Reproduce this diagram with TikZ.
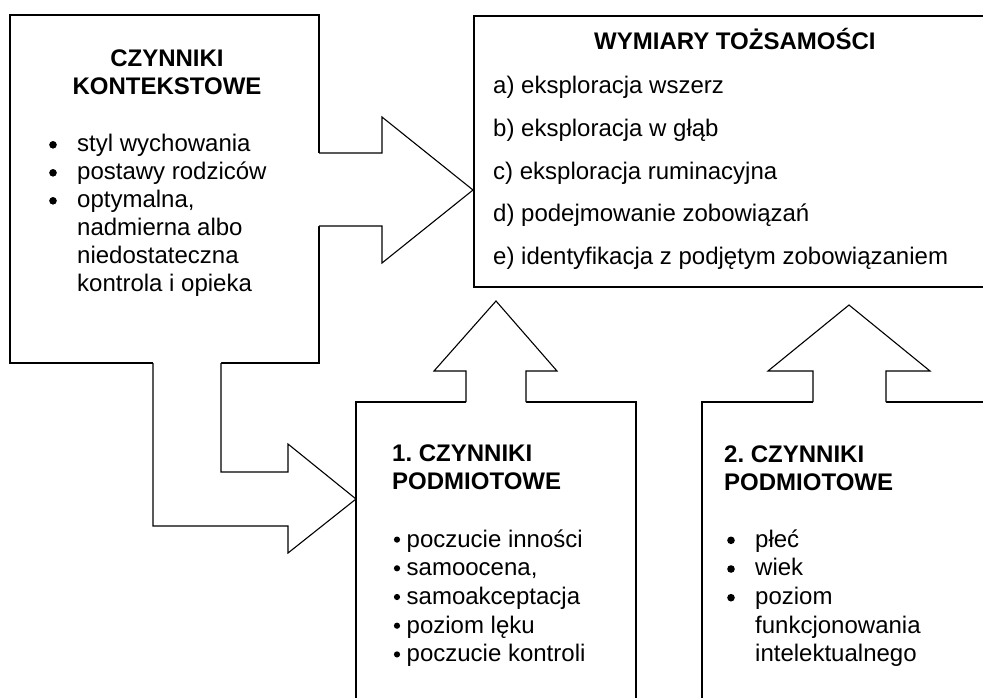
\documentclass[tikz,border=0pt]{standalone}
\usepackage{fontspec}
\setmainfont{Liberation Sans}
\frenchspacing
\tikzset{
  box/.style={draw, line width=1.1pt, anchor=north west, inner sep=0pt, outer sep=0pt},
  blk/.style={line width=1.1pt, line join=miter},
  txt/.style={anchor=base west, inner sep=0pt, font=\fontsize{24}{27.6}\selectfont},
  ttl/.style={anchor=base west, inner sep=0pt, font=\bfseries\fontsize{24}{27.6}\selectfont},
  bul/.style={circle, fill=black, inner sep=0pt, minimum size=7.6pt},
  sbul/.style={circle, fill=black, inner sep=0pt, minimum size=6.2pt},
}
\begin{document}
\begin{tikzpicture}[x=1pt,y=-1pt]
\useasboundingbox (0,0) rectangle (983,697);
\clip (0,0) rectangle (983,697);
% boxes
\node[box, minimum width=309pt, minimum height=348pt] (ctx) at (10,15) {};
\node[box, minimum width=521pt, minimum height=271pt] (dim) at (474,16) {};
\node[box, minimum width=280pt, minimum height=340pt] (sub1) at (356,402) {};
\node[box, minimum width=320pt, minimum height=340pt] (sub2) at (702,402) {};
% right block arrow ctx -> dim
\fill[white] (315,153) -- (382,153) -- (382,117) -- (473,190) -- (382,263) -- (382,226) -- (315,226) -- cycle;
\draw[blk] (319,153) -- (382,153) -- (382,117) -- (473,190) -- (382,263) -- (382,226) -- (319,226);
% L-shaped block arrow ctx -> sub1
\fill[white] (153,359) -- (153,526) -- (288,526) -- (288,553) -- (356,499) -- (288,444) -- (288,472) -- (221,472) -- (221,359) -- cycle;
\draw[blk] (153,363) -- (153,526) -- (288,526) -- (288,553) -- (356,499) -- (288,444) -- (288,472) -- (221,472) -- (221,363);
% up block arrow sub1 -> dim
\fill[white] (466,406) -- (466,371) -- (434,371) -- (496,301) -- (557,371) -- (526,371) -- (526,406) -- cycle;
\draw[blk] (466,402) -- (466,371) -- (434,371) -- (496,301) -- (557,371) -- (526,371) -- (526,402);
% up block arrow sub2 -> dim
\fill[white] (813,406) -- (813,371) -- (768,371) -- (849,305) -- (930,371) -- (886,371) -- (886,406) -- cycle;
\draw[blk] (813,402) -- (813,371) -- (768,371) -- (849,305) -- (930,371) -- (886,371) -- (886,402);
% texts: context box
\node[ttl, anchor=base] (ctxA) at (167,66.5) {CZYNNIKI};
\node[ttl, anchor=base] (ctxB) at (167,94) {KONTEKSTOWE};
\node[bul] (cb1) at (53,144.8) {};
\node[bul] (cb2) at (53,172.8) {};
\node[bul] (cb3) at (53,200.8) {};
\node[txt] (c1) at (77,151.5) {styl wychowania};
\node[txt] (c2) at (77,179.5) {postawy rodziców};
\node[txt] (c3) at (77,207.5) {optymalna,};
\node[txt] (c4) at (77,235.5) {nadmierna albo};
\node[txt] (c5) at (77,263.5) {niedostateczna};
\node[txt] (c6) at (77,291.5) {kontrola i opieka};
% texts: dimensions box
\node[ttl] (dimT) at (594,49.3) {WYMIARY TOŻSAMOŚCI};
\node[txt] (d1) at (493,93.5) {a) eksploracja wszerz};
\node[txt] (d2) at (493,136.25) {b) eksploracja w głąb};
\node[txt] (d3) at (493,179) {c) eksploracja ruminacyjna};
\node[txt] (d4) at (493,221.75) {d) podejmowanie zobowiązań};
\node[txt] (d5) at (493,264.5) {e) identyfikacja z podjętym zobowiązaniem};
% texts: subject factors 1
\node[ttl] (s1A) at (392,461.7) {1. CZYNNIKI};
\node[ttl] (s1B) at (392,489.3) {PODMIOTOWE};
\node[sbul] (sb1) at (397,539.6) {};
\node[sbul] (sb2) at (397,568.3) {};
\node[sbul] (sb3) at (397,597) {};
\node[sbul] (sb4) at (397,625.7) {};
\node[sbul] (sb5) at (397,654.4) {};
\node[txt] (s1) at (406.5,547) {poczucie inności};
\node[txt] (s2) at (406.5,575.7) {samoocena,};
\node[txt] (s3) at (406.5,604.4) {samoakceptacja};
\node[txt] (s4) at (406.5,633.1) {poziom lęku};
\node[txt] (s5) at (406.5,661.8) {poczucie kontroli};
% texts: subject factors 2
\node[ttl] (s2A) at (724,462) {2. CZYNNIKI};
\node[ttl] (s2B) at (724,490) {PODMIOTOWE};
\node[bul] (tb1) at (731,540.3) {};
\node[bul] (tb2) at (731,569) {};
\node[bul] (tb3) at (731,597.7) {};
\node[txt] (t1) at (755,547) {płeć};
\node[txt] (t2) at (755,575.7) {wiek};
\node[txt] (t3) at (755,604.4) {poziom};
\node[txt] (t4) at (755,633.1) {funkcjonowania};
\node[txt] (t5) at (755,661.8) {intelektualnego};
\end{tikzpicture}
\end{document}
